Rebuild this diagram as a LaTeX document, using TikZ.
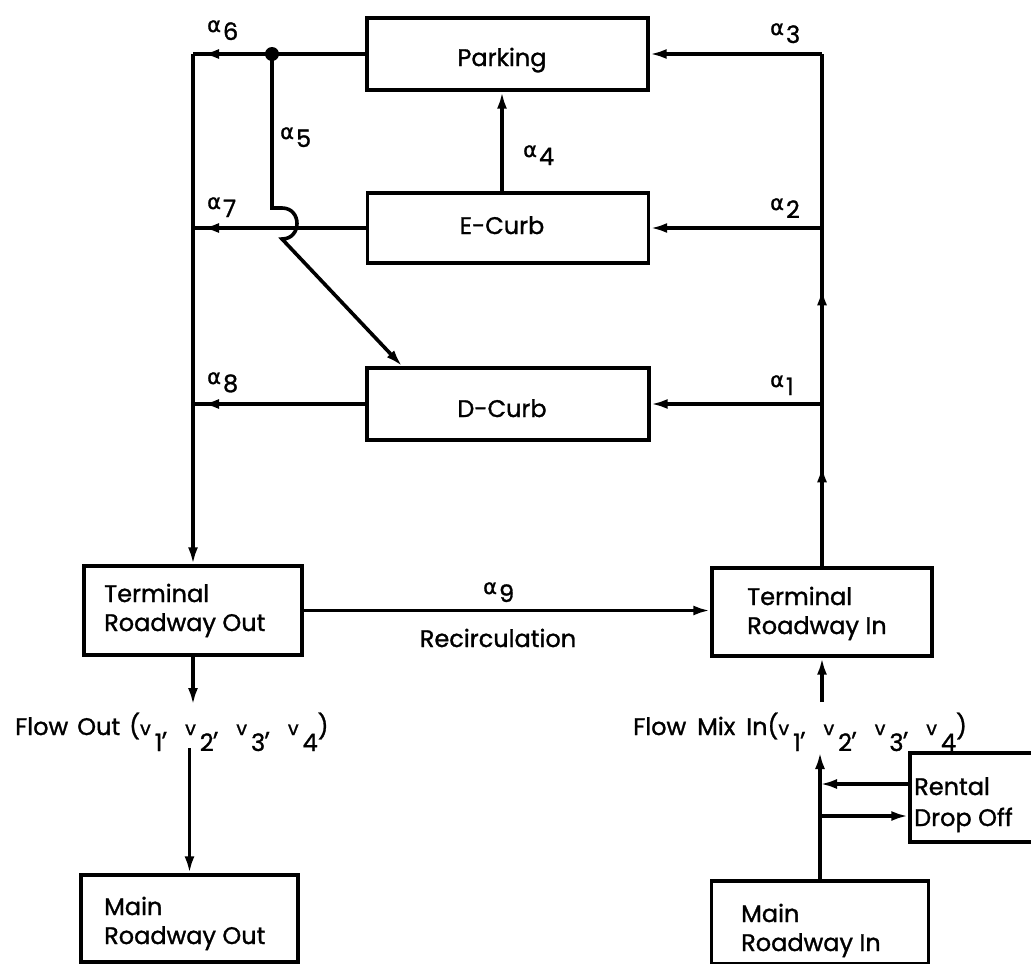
\documentclass[tikz,border=0pt]{standalone}
\usepackage{fontspec}
\setmainfont{Poppins}[UprightFeatures={FakeBold=1.2}]
\newfontfamily\greekf{DejaVu Sans}[FakeBold=1.2]
\usetikzlibrary{arrows.meta,calc}
\newcommand\al[1]{{\greekf\fontsize{21}{21}\selectfont\raisebox{8pt}{α}}\kern2pt#1}
\newcommand\vs[1]{{\fontsize{19}{19}\selectfont v}\kern4pt\raisebox{-16pt}{#1}}
\newcommand\vsp{\hspace{18pt}}
\tikzset{
  box/.style={draw, line width=3.4pt, inner sep=0pt, minimum width=#1},
  txt/.style={anchor=base west, inner sep=0pt, font=\fontsize{24}{28}\selectfont},
  ctxt/.style={anchor=base, inner sep=0pt, font=\fontsize{24}{28}\selectfont},
  lab/.style={anchor=base west, inner sep=0pt, font=\fontsize{24}{28}\selectfont},
  conn/.style={line width=3.6pt},
  arr/.style={line width=3.6pt, -{Latex[length=17pt,width=10pt]}},
}
\begin{document}
\begin{tikzpicture}[x=1pt,y=-1pt]
\clip (0,0) rectangle (1031,964);
\fill[white] (0,0) rectangle (1031,964);
% boxes
\node[box=281pt, minimum height=72pt] (park) at (507.5,54) {};
\node[box=281pt, minimum height=70pt] (ecurb) at (508,228) {};
\node[box=282pt, minimum height=72pt] (dcurb) at (508,404) {};
\node[box=218pt, minimum height=89pt] (tro) at (193,610.5) {};
\node[box=220pt, minimum height=88pt] (tri) at (822,612) {};
\node[box=217pt, minimum height=87pt] (mro) at (189.5,918.5) {};
\node[box=217pt, minimum height=83pt] (mri) at (820,922.5) {};
\node[box=160pt, minimum height=89pt] (rent) at (990,797.5) {};
% texts
\node[ctxt] (parkT) at (502,66) {Parking};
\node[ctxt] (ecurbT) at (502,234) {E-Curb};
\node[ctxt] (dcurbT) at (502,417) {D-Curb};
\node[txt] (troT1) at (104,602) {Terminal};
\node[txt] (troT2) at (104,631) {Roadway Out};
\node[txt] (triT1) at (747,605) {Terminal};
\node[txt] (triT2) at (747,634) {Roadway In};
\node[txt] (mroT1) at (104,915) {Main};
\node[txt] (mroT2) at (104,944) {Roadway Out};
\node[txt] (mriT1) at (741,922) {Main};
\node[txt] (mriT2) at (741,951) {Roadway In};
\node[txt] (rentT1) at (914,795) {Rental};
\node[txt] (rentT2) at (914,826) {Drop Off};
\node[txt] (fo) at (15,735) {Flow\hspace{9pt}Out\hspace{9pt}(\vs1,\vsp\vs2,\vsp\vs3,\vsp\vs4)};
\node[txt] (fm) at (633,735) {Flow\hspace{11pt}Mix\hspace{11pt}In(\vs1,\vsp\vs2,\vsp\vs3,\vsp\vs4)};
\node[ctxt] (recT) at (498,647) {Recirculation};
% alpha labels
\node[lab] (a1) at (770,395) {\al1};
\node[lab] (a2) at (770,218) {\al2};
\node[lab] (a3) at (770,43) {\al3};
\node[lab] (a4) at (523,165) {\al4};
\node[lab] (a5) at (280,147) {\al5};
\node[lab] (a6) at (207,40) {\al6};
\node[lab] (a7) at (207,217) {\al7};
\node[lab] (a8) at (207,392) {\al8};
\node[lab] (a9) at (483,602) {\al9};
% helper coordinates
\coordinate (L6) at (park.west -| tro.north);
\coordinate (L7) at (ecurb.west -| tro.north);
\coordinate (L8) at (dcurb.west -| tro.north);
\coordinate (R3) at (park.east -| tri.north);
\coordinate (R2) at (ecurb.east -| tri.north);
\coordinate (R1) at (dcurb.east -| tri.north);
\coordinate (dot) at (272,54);
\coordinate (hopA) at (272,208);
\coordinate (hopB) at (282,208);
\coordinate (hopC) at (282,239);
\coordinate (dIn) at ($(dcurb.north west)+(37,0)$);
\coordinate (foT) at (193,705);
\coordinate (foB) at (189.5,748);
\coordinate (fmT) at (822,702);
\coordinate (fmB) at (820,752);
\coordinate (rOut) at (rent.west |- 0,784);
\coordinate (rIn) at (rent.west |- 0,816);
% left column
\draw[conn] (park.west) -- (L6);
\draw[arr] (park.west) -- ($(L6)+(9,0)$);
\draw[conn] (ecurb.west) -- (L7);
\draw[arr] (ecurb.west) -- ($(L7)+(9,0)$);
\draw[conn] (dcurb.west) -- (L8);
\draw[arr] (dcurb.west) -- ($(L8)+(9,0)$);
\draw[arr] (L6) -- (tro.north);
% alpha5 with hop
\fill (dot) circle (7pt);
\draw[arr] (dot) -- (hopA) -- (hopB) .. controls (302,208) and (302,239) .. (hopC) -- (dIn);
% alpha4
\draw[arr] (ecurb.north -| parkT.south) -- (park.south -| parkT.south);
% right column
\draw[conn] (tri.north) -- (R3);
\draw[arr] (tri.north) -- ($(tri.north)+(0,-101)$);
\draw[arr] (tri.north) -- ($(tri.north)+(0,-278)$);
\draw[arr] (R3) -- (park.east);
\draw[arr] (R2) -- (ecurb.east);
\draw[arr] (R1) -- (dcurb.east);
% recirculation
\draw[arr] (tro.east) -- (tro.east -| tri.west);
% flows
\draw[arr] (tro.south) -- (foT);
\draw[arr] (foB) -- (mro.north);
\draw[arr] (fmT) -- (tri.south);
\draw[arr] (mri.north) -- (fmB);
\draw[arr] (rOut) -- (rOut -| mri.north);
\draw[arr] (rIn -| mri.north) -- (rIn);
\end{tikzpicture}
\end{document}
